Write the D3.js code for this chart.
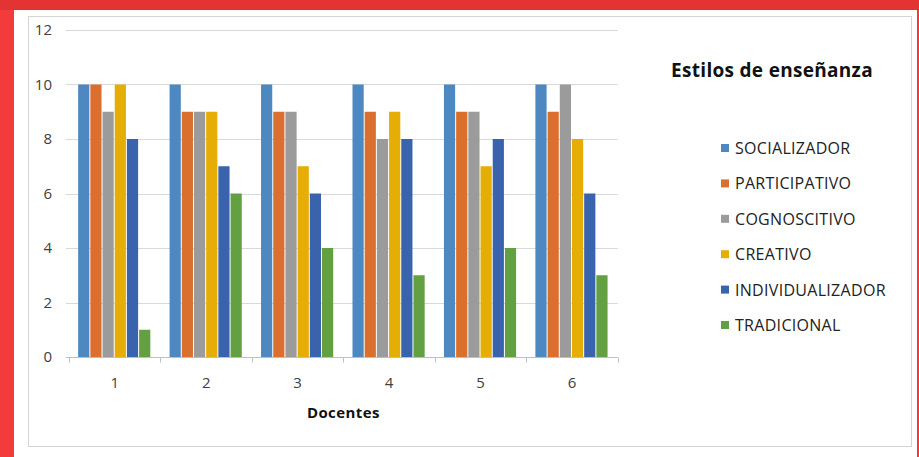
<!DOCTYPE html>
<html>
<head>
<meta charset="utf-8">
<script src="https://cdn.jsdelivr.net/npm/d3@7/dist/d3.min.js"></script>
<style>
  html, body { margin: 0; padding: 0; background: #fff; }
  svg { display: block; }
  text { font-family: "Open Sans", "DejaVu Sans", sans-serif; }
</style>
</head>
<body>
<svg id="chart" width="919" height="457"></svg>
<script>
// ---- data ----
const categories = ["1", "2", "3", "4", "5", "6"];
const seriesNames = ["SOCIALIZADOR", "PARTICIPATIVO", "COGNOSCITIVO", "CREATIVO", "INDIVIDUALIZADOR", "TRADICIONAL"];
const seriesColors = ["#4E88C0", "#DB702E", "#9B9B9B", "#E6AD06", "#3A63AD", "#63A042"];
const socializador     = [10, 10, 10, 10, 10, 10];
const participativo    = [10, 9, 9, 9, 9, 9];
const cognoscitivo     = [9, 9, 9, 8, 9, 10];
const creativo         = [10, 9, 7, 9, 7, 8];
const individualizador = [8, 7, 6, 8, 8, 6];
const tradicional      = [1, 6, 4, 3, 4, 3];
const yTicks = [0, 2, 4, 6, 8, 10, 12];
const title = "Estilos de enseñanza";
const xTitle = "Docentes";

const seriesValues = [socializador, participativo, cognoscitivo, creativo, individualizador, tradicional];

const svg = d3.select("#chart");
const W = 919, H = 457;

// ---- frame ----
svg.append("rect").attr("x", 0).attr("y", 0).attr("width", W).attr("height", H).attr("fill", "#F33B3B");
svg.append("rect").attr("x", 0).attr("y", 0).attr("width", W).attr("height", 10).attr("fill", "#E43333");
svg.append("rect").attr("x", 14).attr("y", 10).attr("width", 903).attr("height", H - 10).attr("fill", "#ffffff");
svg.append("rect").attr("x", 28.5).attr("y", 16.5).attr("width", 883).attr("height", 430)
  .attr("fill", "none").attr("stroke", "#d4d4d4").attr("stroke-width", 1);

// ---- scales ----
const x0 = d3.scaleBand().domain(categories).range([69, 617.7]).paddingInner(0).paddingOuter(0);
const x1 = d3.scaleBand().domain(seriesNames).range([0, x0.bandwidth()]).paddingInner(0).paddingOuter(0.75);
const y = d3.scaleLinear().domain([0, 12]).range([357, 30]);

// ---- gridlines ----
svg.append("g").selectAll("line").data(yTicks.filter(d => d > 0)).join("line")
  .attr("x1", 66).attr("x2", 617.7)
  .attr("y1", d => Math.round(y(d)) + 0.5).attr("y2", d => Math.round(y(d)) + 0.5)
  .attr("stroke", "#d9d9d9").attr("stroke-width", 1);

// ---- bars ----
const g = svg.append("g");
categories.forEach((c, ci) => {
  seriesNames.forEach((s, si) => {
    const v = seriesValues[si][ci];
    g.append("rect")
      .attr("x", x0(c) + x1(s))
      .attr("y", y(v))
      .attr("width", x1.bandwidth() - 1)
      .attr("height", y(0) - y(v))
      .attr("fill", seriesColors[si]);
  });
});

// ---- x axis ----
const xAxisY = Math.round(y(0)) + 0.5;
svg.append("line").attr("x1", 66).attr("x2", 617.7).attr("y1", xAxisY).attr("y2", xAxisY)
  .attr("stroke", "#bfbfbf").attr("stroke-width", 1);
const boundaries = categories.map(c => x0(c)).concat([x0(categories[categories.length - 1]) + x0.bandwidth()]);
svg.append("g").selectAll("line").data(boundaries).join("line")
  .attr("x1", d => Math.round(d) + 0.5).attr("x2", d => Math.round(d) + 0.5)
  .attr("y1", xAxisY).attr("y2", xAxisY + 5)
  .attr("stroke", "#bfbfbf").attr("stroke-width", 1);

svg.append("g").selectAll("text").data(categories).join("text")
  .attr("x", d => x0(d) + x0.bandwidth() / 2)
  .attr("y", 388)
  .attr("text-anchor", "middle")
  .attr("font-size", 15)
  .attr("fill", "#404040")
  .text(d => d);

// ---- y axis labels ----
svg.append("g").selectAll("text").data(yTicks).join("text")
  .attr("x", 52)
  .attr("y", d => y(d) + 5)
  .attr("text-anchor", "end")
  .attr("font-size", 15)
  .attr("fill", "#404040")
  .text(d => d);

// ---- axis title ----
svg.append("text")
  .attr("x", (69 + 617.7) / 2)
  .attr("y", 418)
  .attr("text-anchor", "middle")
  .attr("font-size", 15)
  .attr("letter-spacing", 0.4)
  .attr("font-weight", "bold")
  .attr("fill", "#111")
  .text(xTitle);

// ---- chart title ----
svg.append("text")
  .attr("x", 772)
  .attr("y", 77)
  .attr("text-anchor", "middle")
  .attr("font-size", 19)
  .attr("letter-spacing", 0.3)
  .attr("font-weight", "bold")
  .attr("fill", "#111")
  .text(title);

// ---- legend ----
const legend = svg.append("g").selectAll("g").data(seriesNames).join("g")
  .attr("transform", (d, i) => `translate(721, ${148 + i * 35.4})`);
legend.append("rect").attr("x", 0).attr("y", -4).attr("width", 8).attr("height", 8)
  .attr("fill", (d, i) => seriesColors[i]);
legend.append("text").attr("x", 14).attr("y", 6)
  .attr("font-size", 16)
  .attr("letter-spacing", 0.3)
  .attr("fill", "#222")
  .text(d => d);
</script>
</body>
</html>
